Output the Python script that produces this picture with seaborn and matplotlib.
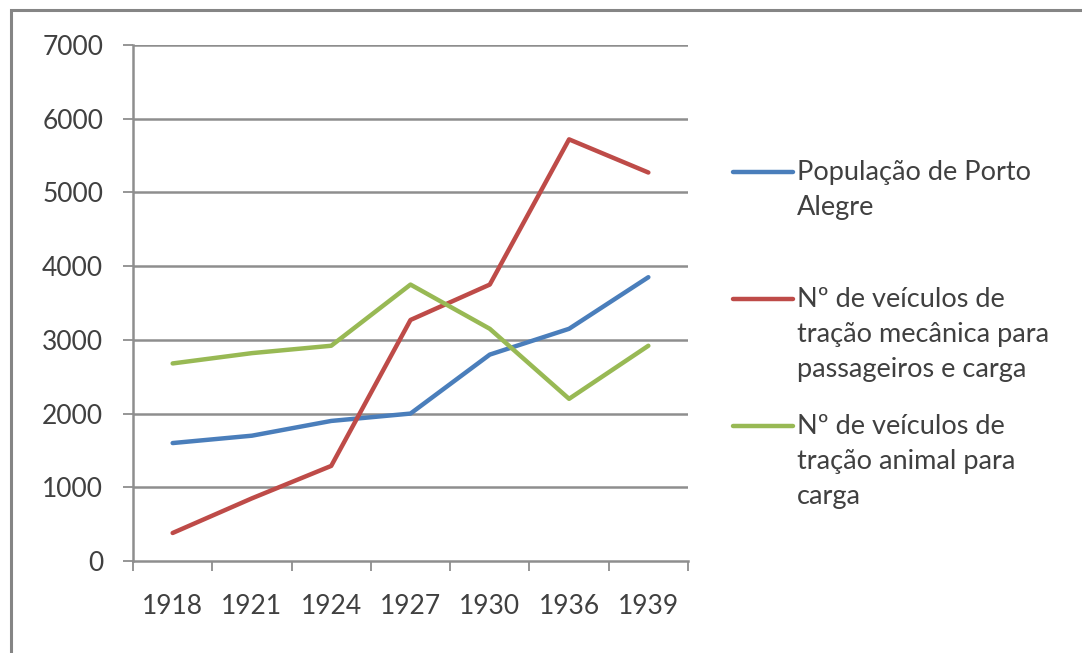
import matplotlib
matplotlib.use("Agg")
import matplotlib.pyplot as plt
from matplotlib.lines import Line2D
from matplotlib.patches import Rectangle
import numpy as np
import pandas as pd
import seaborn as sns

# ---- data ----
years = ["1918", "1921", "1924", "1927", "1930", "1936", "1939"]
populacao = [1600, 1700, 1900, 2000, 2800, 3150, 3850]
tracao_mecanica = [380, 850, 1290, 3270, 3750, 5720, 5270]
tracao_animal = [2680, 2820, 2920, 3750, 3150, 2200, 2920]
series_names = [
    "População de Porto\nAlegre",
    "Nº de veículos de\ntração mecânica para\npassageiros e carga",
    "Nº de veículos de\ntração animal para\ncarga",
]
colors = ["#4A7EBB", "#BE4B48", "#98B954"]
y_ticks = [0, 1000, 2000, 3000, 4000, 5000, 6000, 7000]

sns.set_theme(style="white")
plt.rcParams["font.family"] = ["Lato", "DejaVu Sans"]

rows = []
for name, vals in zip(series_names, [populacao, tracao_mecanica, tracao_animal]):
    for i, v in enumerate(vals):
        rows.append({"pos": i, "valor": v, "serie": name})
df = pd.DataFrame(rows)

fig = plt.figure(figsize=(10.82, 6.53), dpi=100)
ax = fig.add_axes([133 / 1082, 1 - 561 / 653, (688 - 133) / 1082, (561 - 45) / 653])

text_color = "#404040"
grid_color = "#8E8E8E"

for y in y_ticks[1:]:
    ax.axhline(y, color=grid_color, lw=1.8, zorder=0)

sns.lineplot(data=df, x="pos", y="valor", hue="serie", palette=colors,
             hue_order=series_names, lw=3.2, legend=False, ax=ax, zorder=3)

ax.set_xlim(-0.5, len(years) - 0.5)
ax.set_ylim(0, 7000)
ax.set_xlabel("")
ax.set_ylabel("")
ax.set_yticks(y_ticks)
ax.set_yticklabels([str(t) for t in y_ticks])
ax.set_xticks(np.arange(len(years)))
ax.set_xticklabels(years)
ax.set_xticks(np.arange(len(years) + 1) - 0.5, minor=True)

for s in ["top", "right"]:
    ax.spines[s].set_visible(False)
for s in ["left", "bottom"]:
    ax.spines[s].set_color(grid_color)
    ax.spines[s].set_linewidth(1.8)

ax.tick_params(axis="y", which="major", length=7.5, width=1.3, color=grid_color,
               pad=14, labelsize=19, labelcolor=text_color, left=True, direction="out")
ax.tick_params(axis="x", which="major", length=0, pad=24, labelsize=19,
               labelcolor=text_color)
ax.tick_params(axis="x", which="minor", length=7.5, width=1.3, color=grid_color,
               bottom=True, direction="out")

# legend (manual, handle aligned with first text line)
leg_items = [(172, series_names[0]), (299, series_names[1]), (426, series_names[2])]
for (ypix, label), c in zip(leg_items, colors):
    yf = 1 - ypix / 653
    fig.add_artist(Line2D([733 / 1082, 793 / 1082], [yf, yf], color=c, lw=3.2,
                          transform=fig.transFigure))
    fig.text(797 / 1082, yf + 0.019, label, ha="left", va="top", fontsize=19.5,
             color=text_color, linespacing=1.5)

# outer border
fig.add_artist(Rectangle((11 / 1082, -0.05), 1.1, 1 - 10 / 653 + 0.05,
                         transform=fig.transFigure, fill=False,
                         edgecolor="#858585", lw=2.2))

fig.savefig("out.png", dpi=100)
